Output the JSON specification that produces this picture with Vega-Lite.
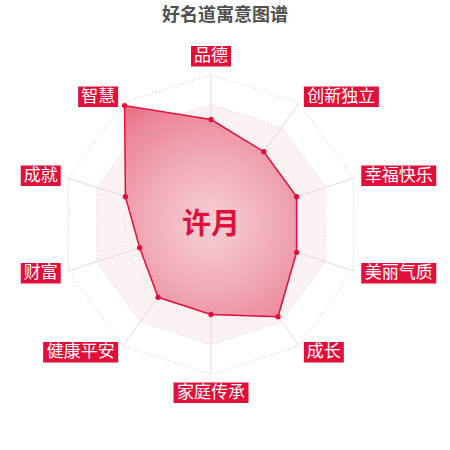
{
  "$schema": "https://vega.github.io/schema/vega-lite/v6.json",
  "width": 450,
  "height": 428,
  "autosize": {"type": "none"},
  "padding": {"left": 0, "top": 22, "right": 0, "bottom": 0},
  "title": {
    "text": "好名道寓意图谱",
    "fontSize": 18,
    "fontWeight": "bold",
    "color": "#505050",
    "font": "Noto Sans CJK SC",
    "anchor": "middle",
    "offset": -3
  },
  "data": {
    "values": [
      {"axis": "品德", "i": 0, "value": 70, "grid": [20, 40, 60, 80, 100]},
      {"axis": "创新独立", "i": 1, "value": 60, "grid": [20, 40, 60, 80, 100]},
      {"axis": "幸福快乐", "i": 2, "value": 60, "grid": [20, 40, 60, 80, 100]},
      {"axis": "美丽气质", "i": 3, "value": 60, "grid": [20, 40, 60, 80, 100]},
      {"axis": "成长", "i": 4, "value": 76, "grid": [20, 40, 60, 80, 100]},
      {"axis": "家庭传承", "i": 5, "value": 60, "grid": [20, 40, 60, 80, 100]},
      {"axis": "健康平安", "i": 6, "value": 60, "grid": [20, 40, 60, 80, 100]},
      {"axis": "财富", "i": 7, "value": 50, "grid": [20, 40, 60, 80, 100]},
      {"axis": "成就", "i": 8, "value": 60, "grid": [20, 40, 60, 80, 100]},
      {"axis": "智慧", "i": 9, "value": 98, "grid": [20, 40, 60, 80, 100]}
    ]
  },
  "transform": [
    {"calculate": "datum.i * PI / 5", "as": "ang"},
    {"calculate": "sin(datum.ang)", "as": "s"},
    {"calculate": "cos(datum.ang)", "as": "c"}
  ],
  "encoding": {
    "x": {"field": "px", "type": "quantitative", "scale": {"domain": [-140.667, 159.333], "nice": false, "zero": false}, "axis": null},
    "y": {"field": "py", "type": "quantitative", "scale": {"domain": [-150.333, 135], "nice": false, "zero": false}, "axis": null}
  },
  "layer": [
    {
      "transform": [
        {"calculate": "80 * datum.s", "as": "px"},
        {"calculate": "80 * datum.c", "as": "py"}
      ],
      "mark": {"type": "line", "interpolate": "linear-closed", "fill": "#fcf2f4", "strokeWidth": 0},
      "encoding": {"order": {"field": "i"}}
    },
    {
      "transform": [
        {"flatten": ["grid"]},
        {"calculate": "datum.grid * datum.s", "as": "px"},
        {"calculate": "datum.grid * datum.c", "as": "py"}
      ],
      "mark": {"type": "line", "interpolate": "linear-closed", "stroke": "#e6d6da", "strokeWidth": 1, "strokeDash": [1.5, 2]},
      "encoding": {"order": {"field": "i"}, "detail": {"field": "grid"}}
    },
    {
      "transform": [
        {"calculate": "100 * datum.s", "as": "px"},
        {"calculate": "100 * datum.c", "as": "py"}
      ],
      "mark": {"type": "rule", "stroke": "#f0d6dc", "strokeWidth": 1},
      "encoding": {"x2": {"datum": 0}, "y2": {"datum": 0}}
    },
    {
      "transform": [
        {"calculate": "datum.value * datum.s", "as": "px"},
        {"calculate": "datum.value * datum.c", "as": "py"}
      ],
      "mark": {
        "type": "line",
        "interpolate": "linear-closed",
        "stroke": "#e0103a",
        "strokeWidth": 1.5,
        "fill": {
          "gradient": "radial",
          "x1": 0.5, "y1": 0.56, "r1": 0,
          "x2": 0.5, "y2": 0.56, "r2": 0.75,
          "stops": [
            {"offset": 0, "color": "#f6d0d7"},
            {"offset": 0.4, "color": "#f1acb9"},
            {"offset": 0.75, "color": "#ec8799"},
            {"offset": 1, "color": "#e65d77"}
          ]
        }
      },
      "encoding": {"order": {"field": "i"}}
    },
    {
      "transform": [
        {"calculate": "datum.value * datum.s", "as": "px"},
        {"calculate": "datum.value * datum.c", "as": "py"}
      ],
      "mark": {"type": "point", "filled": true, "color": "#e0103a", "size": 28, "opacity": 1}
    },
    {
      "transform": [
        {"calculate": "105.33 * datum.s + (datum.s > 0.1 ? 1 : datum.s < -0.1 ? -1 : 0) * (length(datum.axis) == 2 ? 13.33 : 25)", "as": "px"},
        {"calculate": "105.33 * datum.c + (datum.c > 0.99 ? 6.87 : datum.c < -0.99 ? -6.87 : 0)", "as": "py"}
      ],
      "mark": {"type": "point", "filled": true, "color": "#e0103a", "size": 5625, "opacity": 1, "strokeWidth": 0},
      "encoding": {
        "shape": {
          "condition": {"test": "length(datum.axis) == 2", "value": "M-0.533,-0.273H0.533V0.273H-0.533Z"},
          "value": "M-1,-0.273H1V0.273H-1Z"
        }
      }
    },
    {
      "transform": [
        {"calculate": "105.33 * datum.s + (datum.s > 0.1 ? 1 : datum.s < -0.1 ? -1 : 0) * (length(datum.axis) == 2 ? 13.33 : 25)", "as": "px"},
        {"calculate": "105.33 * datum.c + (datum.c > 0.99 ? 6.87 : datum.c < -0.99 ? -6.87 : 0)", "as": "py"}
      ],
      "mark": {"type": "text", "color": "#ffffff", "fontSize": 17, "font": "Noto Sans CJK SC", "align": "center", "baseline": "middle"},
      "encoding": {"text": {"field": "axis"}}
    },
    {
      "data": {"values": [{"name": "许月"}]},
      "transform": [
        {"calculate": "0", "as": "px"},
        {"calculate": "0", "as": "py"}
      ],
      "mark": {"type": "text", "color": "#e0103a", "fontSize": 29, "fontWeight": "bold", "font": "Noto Sans CJK SC", "align": "center", "baseline": "middle", "dy": 0},
      "encoding": {"text": {"field": "name"}}
    }
  ],
  "config": {"view": {"stroke": null}, "font": "Noto Sans CJK SC"}
}
